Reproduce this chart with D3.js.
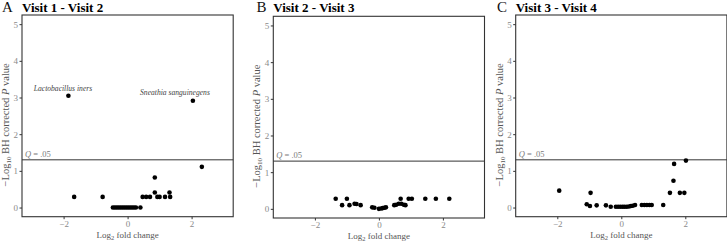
<!DOCTYPE html>
<html>
<head>
<meta charset="utf-8">
<script src="https://cdn.jsdelivr.net/npm/d3@7"></script>
<style>
  body { margin: 0; background: #fff; }
  svg, svg text { font-family: "Liberation Serif", "Times New Roman", Tinos, "DejaVu Serif", serif; }
</style>
</head>
<body>
<div id="plot"></div>
<script>
// panel letters and titles
var letters = ['A', 'B', 'C'];
var titles = ['Visit 1 - Visit 2', 'Visit 2 - Visit 3', 'Visit 3 - Visit 4'];

// log2 fold change / -log10 BH corrected p, per panel
var lfcA = [-1.85, 2.04, 2.32, 0.85, 0.85, 1.31, -1.67, -0.78, 0.47, 0.58, 0.70, 0.93, 1.00, 1.17, 1.33,
  -0.46, -0.40, -0.34, -0.28, -0.22, -0.16, -0.10, -0.04, 0.02, 0.08, 0.14, 0.20, 0.26, 0.40];
var pA = [3.05, 2.91, 1.11, 0.82, 0.41, 0.41, 0.29, 0.29, 0.29, 0.29, 0.29, 0.29, 0.29, 0.29, 0.29,
  0, 0, 0, 0, 0, 0, 0, 0, 0, 0, 0, 0, 0, 0];

var lfcB = [-1.35, -1.00, 0.68, 0.93, 1.03, 1.45, 1.78, 2.20,
  -1.15, -0.92, -0.76, -0.70, -0.57,
  -0.21, -0.14, 0.00, 0.07, 0.12, 0.17, 0.22,
  0.48, 0.54, 0.62, 0.70, 0.78, 0.83];
var pB = [0.275, 0.275, 0.275, 0.275, 0.275, 0.275, 0.275, 0.275,
  0.10, 0.10, 0.14, 0.13, 0.10,
  0.04, 0.03, 0.00, 0.01, 0.02, 0.03, 0.04,
  0.10, 0.11, 0.14, 0.14, 0.11, 0.10];

var lfcC = [-1.94, -0.96, -1.08, -0.98, -0.77, -0.48, -0.33,
  -0.17, -0.10, -0.03, 0.04, 0.10, 0.17, 0.24, 0.30, 0.36, 0.43,
  0.64, 0.72, 0.80, 0.88, 0.95, 1.31, 1.52, 1.63, 1.65, 1.83, 1.97, 2.02];
var pC = [0.46, 0.40, 0.09, 0.04, 0.06, 0.06, 0.02,
  0.02, 0.02, 0.02, 0.02, 0.02, 0.02, 0.03, 0.04, 0.05, 0.07,
  0.07, 0.07, 0.07, 0.07, 0.07, 0.07, 0.40, 0.73, 1.19, 0.40, 0.40, 1.28];

// labelled taxa (panel A), label anchor in data units
var labelText = ['Lactobacillus iners', 'Sneathia sanguinegens'];
var labelX = [-2.02, 1.48];
var labelY = [3.18, 3.07];

var qThreshold = -Math.log10(0.05);
var xTicks = [-2, 0, 2];
var yTicks = [0, 1, 2, 3, 4, 5];

var lfcs = [lfcA, lfcB, lfcC];
var ps = [pA, pB, pC];

// layout
var boxLeft = [22, 273.3, 515.7];
var boxTop = [15, 16.3, 15];
var boxW = 211.2, boxH = 201.7;
var letterX = [2, 256.5, 497];
var serif = '"Liberation Serif", "Times New Roman", Tinos, "DejaVu Serif", serif';

var svg = d3.select("#plot")
  .append("svg")
  .attr("width", 727)
  .attr("height", 245)
  .attr("font-family", serif);

var fmt = function(d) { return d < 0 ? "\u2212" + Math.abs(d) : "" + d; };

for (var k = 0; k < 3; k++) {
  var g = svg.append("g")
    .attr("transform", `translate(${boxLeft[k]}, ${boxTop[k]})`);

  var x = d3.scaleLinear().domain([-3.3, 3.3]).range([0, boxW]);
  var y = d3.scaleLinear().domain([-0.25, 5.25]).range([boxH, 0]);

  // axes
  var ya = g.append("g")
    .call(d3.axisLeft(y).tickValues(yTicks).tickFormat(fmt).tickSize(2.5).tickPadding(1.5));
  var xa = g.append("g")
    .attr("transform", `translate(0, ${boxH})`)
    .call(d3.axisBottom(x).tickValues(xTicks).tickFormat(fmt).tickSize(2.5).tickPadding(1.5));
  [ya, xa].forEach(function(a) {
    a.attr("font-family", serif);
    a.select(".domain").remove();
    a.selectAll("line").style("stroke", "#333").style("stroke-width", 1);
    a.selectAll("text")
      .style("font-size", "9px")
      .style("fill", "#8a8a8a");
  });

  // threshold line
  g.append("line")
    .attr("x1", 0).attr("x2", boxW)
    .attr("y1", y(qThreshold)).attr("y2", y(qThreshold))
    .style("stroke", "#333")
    .style("stroke-width", 1);

  var q = g.append("text")
    .attr("x", 3)
    .attr("y", y(qThreshold) - 3)
    .style("font-size", "8.5px")
    .style("fill", "#7a7a7a");
  q.append("tspan").style("font-style", "italic").text("Q");
  q.append("tspan").text(" = .05");

  // points
  var pts = lfcs[k].map(function(v, i) { return { lfc: v, p: ps[k][i] }; });
  g.selectAll("circle")
    .data(pts)
    .enter()
    .append("circle")
    .attr("cx", function(d) { return x(d.lfc); })
    .attr("cy", function(d) { return y(d.p); })
    .attr("r", 2.3)
    .style("fill", "#000");

  if (k == 0) {
    g.selectAll("text.lab")
      .data(labelText)
      .enter()
      .append("text")
      .attr("class", "lab")
      .attr("x", function(d, i) { return x(labelX[i]); })
      .attr("y", function(d, i) { return y(labelY[i]); })
      .attr("text-anchor", "middle")
      .style("font-style", "italic")
      .style("font-size", "7.6px")
      .style("fill", "#444")
      .text(function(d) { return d; });
  }

  // panel box
  g.append("rect")
    .attr("width", boxW)
    .attr("height", boxH)
    .style("fill", "none")
    .style("stroke", "#333")
    .style("stroke-width", 1.1);

  // x title
  var xt = g.append("text")
    .attr("x", boxW / 2)
    .attr("y", boxH + 21.5)
    .attr("text-anchor", "middle")
    .style("font-size", "9px")
    .style("fill", "#555");
  xt.append("tspan").text("Log");
  xt.append("tspan").attr("dy", 2).style("font-size", "6.5px").text("2");
  xt.append("tspan").attr("dy", -2).text(" fold change");

  // y title
  var yt = g.append("text")
    .attr("transform", `translate(-13, ${boxH / 2 + 9}) rotate(-90)`)
    .attr("text-anchor", "middle")
    .style("font-size", "10.5px")
    .style("fill", "#555");
  yt.append("tspan").text("\u2212Log");
  yt.append("tspan").attr("dy", 2).style("font-size", "7px").text("10");
  yt.append("tspan").attr("dy", -2).text(" BH corrected ");
  yt.append("tspan").style("font-style", "italic").text("P");
  yt.append("tspan").text(" value");

  // panel letter and title
  svg.append("text")
    .attr("x", letterX[k])
    .attr("y", 11.8)
    .style("font-size", "15px")
    .style("fill", "#111")
    .text(letters[k]);
  svg.append("text")
    .attr("x", boxLeft[k])
    .attr("y", 11.8)
    .style("font-size", "13px")
    .style("font-weight", "bold")
    .style("fill", "#000")
    .text(titles[k]);
}
</script>
</body>
</html>
